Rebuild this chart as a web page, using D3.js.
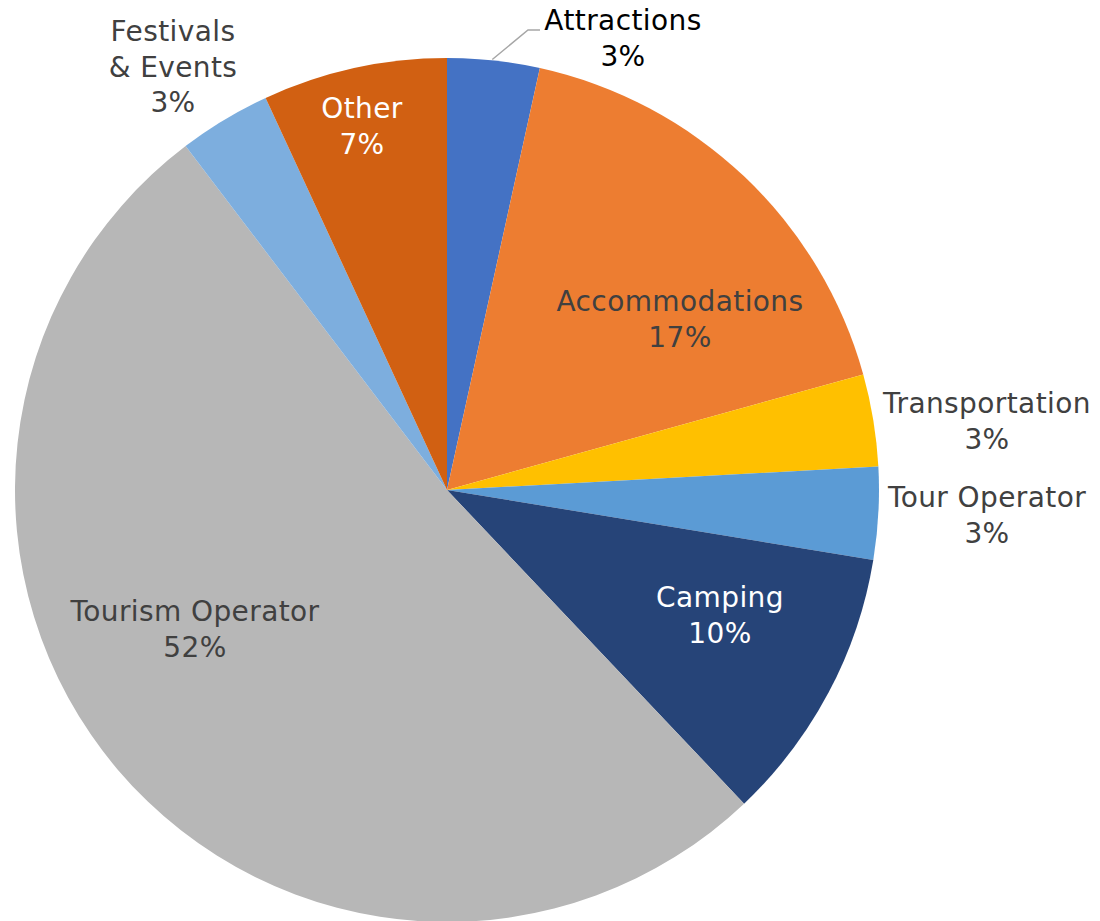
<!DOCTYPE html>
<html>
  <head>
    <meta charset="utf-8">
    <title>Business types</title>
    <script src="https://cdnjs.cloudflare.com/ajax/libs/d3/7.8.5/d3.min.js"></script>
    <style>
      body { margin: 0; background: #fff; }
      svg { display: block; font-family: "DejaVu Sans", Verdana, sans-serif; }
    </style>
  </head>
  <body>
    <svg id="chart" width="1100" height="921"></svg>
    <script>
      // slices, clockwise from 12 o'clock (counts of responses)
      const categories = ["Attractions", "Accommodations", "Transportation", "Tour Operator",
        "Camping", "Tourism Operator", "Festivals & Events", "Other"];
      const counts = [1, 5, 1, 1, 3, 15, 1, 2];
      const colours = ["#4472C4", "#ED7D31", "#FFC000", "#5B9BD5",
        "#264478", "#B7B7B7", "#7DAEDE", "#D16012"];

      const width = 1100, height = 921;
      const cx = 447, cy = 490, radius = 432;

      // label placement (relative to pie centre) and text colour
      const labelLayout = [
        { dx: 176, dy: -452, fill: "#000", lines: ["Attractions"] },
        { dx: 233, dy: -171, fill: "#404040", lines: ["Accommodations"] },
        { dx: 540, dy: -69, fill: "#404040", lines: ["Transportation"] },
        { dx: 540, dy: 25, fill: "#404040", lines: ["Tour Operator"] },
        { dx: 273, dy: 125, fill: "#fff", lines: ["Camping"] },
        { dx: -252, dy: 139, fill: "#404040", lines: ["Tourism Operator"] },
        { dx: -274, dy: -423, fill: "#404040", lines: ["Festivals", "& Events"] },
        { dx: -85, dy: -364, fill: "#fff", lines: ["Other"] }
      ];

      const svg = d3.select("#chart");
      const g = svg.append("g").attr("transform", "translate(" + cx + "," + cy + ")");

      const pie = d3.pie().sort(null).value(function(d) { return d; });
      const arc = d3.arc().innerRadius(0).outerRadius(radius);
      const arcs = pie(counts);
      const total = d3.sum(counts);
      const pct = d3.format(".0%");

      g.selectAll("path.slice")
        .data(arcs)
        .enter()
        .append("path")
          .attr("class", "slice")
          .attr("d", arc)
          .attr("fill", function(d, i) { return colours[i]; });

      // leader line for the small Attractions slice
      const edge = d3.arc().innerRadius(radius - 4).outerRadius(radius - 4).centroid(arcs[0]);
      g.append("path")
        .attr("d", d3.line()([[edge[0] - 1, edge[1] - 5], [81, -460], [93, -460]]))
        .attr("fill", "none")
        .attr("stroke", "#A6A6A6")
        .attr("stroke-width", 1.5);

      const lineH = 35.5;
      const labels = g.selectAll("text.label")
        .data(arcs)
        .enter()
        .append("text")
          .attr("class", "label")
          .attr("text-anchor", "middle")
          .attr("font-size", 28)
          .attr("letter-spacing", 0.4)
          .attr("fill", function(d, i) { return labelLayout[i].fill; });

      labels.each(function(d, i) {
        const L = labelLayout[i];
        const lines = L.lines.concat([pct(d.value / total)]);
        const top = L.dy - (lines.length - 1) * lineH / 2;
        d3.select(this).selectAll("tspan")
          .data(lines)
          .enter()
          .append("tspan")
            .attr("x", L.dx)
            .attr("y", function(t, k) { return top + k * lineH; })
            .attr("dy", "0.35em")
            .text(function(t) { return t; });
      });
    </script>
  </body>
</html>
